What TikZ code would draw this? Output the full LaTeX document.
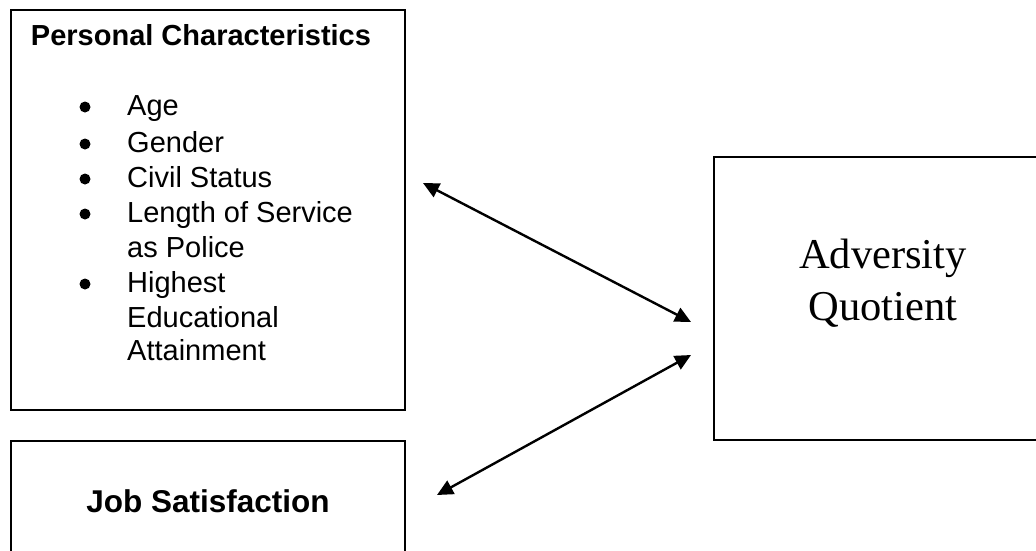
\documentclass[tikz,border=0pt]{standalone}
\usepackage{fontspec}
\setmainfont{Liberation Sans}
\newfontfamily\timesfont{Liberation Serif}
\usetikzlibrary{arrows.meta}

\begin{document}
\begin{tikzpicture}
                [x=1pt, y=-1pt,
                 box/.style={draw, line width=2.2pt, inner sep=0pt},
                 title/.style={font=\bfseries\fontsize{29}{35}\selectfont, anchor=base, inner sep=0pt},
                 item/.style={font=\fontsize{29}{35}\selectfont, anchor=base west, inner sep=0pt},
                 dot/.style={circle, fill=black, minimum size=11pt, inner sep=0pt},
                 quot/.style={font=\timesfont\fontsize{42.5}{52}\selectfont, anchor=base, inner sep=0pt},
                 link/.style={{Triangle[length=16pt,width=15pt]}-{Triangle[length=16pt,width=15pt]}, line width=2.4pt}]
                \useasboundingbox (0,0) rectangle (1036,550);
                % Define boxes
                \node[box, minimum width=394pt, minimum height=400pt, anchor=north west] (pc) at (10,9) {};
                \node[box, minimum width=394pt, minimum height=120pt, anchor=north west,
                      font=\bfseries\fontsize{31.5}{38}\selectfont] (js) at (10,440) {Job Satisfaction};
                \node[box, minimum width=360pt, minimum height=283pt, anchor=north west] (aq) at (713,156) {};
                % Define texts
                \node[title] (pctitle) at (201,45) {Personal Characteristics};
                \foreach \txt/\yy in {Age/115, Gender/152, Civil Status/187, Length of Service/222,
                                      as Police/257, Highest/292, Educational/327, Attainment/360}
                    \node[item] (l\yy) at (127,\yy) {\txt};
                \foreach \yy in {115,152,187,222,292}
                    \node[dot] (d\yy) at (85,\yy-8) {};
                \node[quot] (aq1) at (883,268) {Adversity};
                \node[quot] (aq2) at (883,320) {Quotient};
                % Define edges
                \coordinate (pcend) at (423,183);
                \coordinate (aqtop) at (691,322);
                \coordinate (aqbot) at (691,355);
                \coordinate (jsend) at (437,495);
                \draw[link] (pcend) -- (aqtop);
                \draw[link] (jsend) -- (aqbot);
            \end{tikzpicture}
\end{document}
